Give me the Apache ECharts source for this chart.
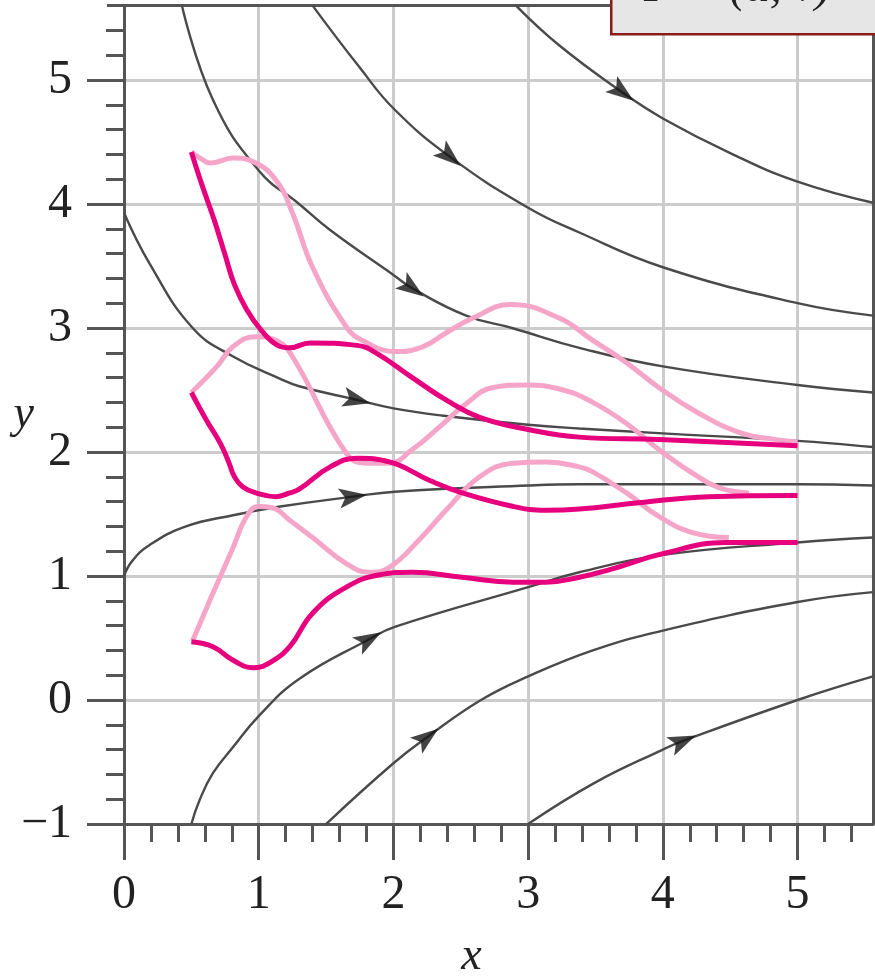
<!DOCTYPE html>
<html>
<head>
<meta charset="UTF-8">
<title>Flow lines</title>
<script src="https://cdn.jsdelivr.net/npm/echarts@6/dist/echarts.min.js"></script>
<style>body{margin:0;background:#fff;}</style>
</head>
<body>
	<div id="main" style="width: 875px; height: 980px;"></div>
	<script type="text/javascript">
		// gray flow lines
		var flow1 = [[2.91,5.6],[3.23,5.28],[3.70,4.90],[4.0,4.69],[4.5,4.41],[5.0,4.18],[5.56,4.01]];
		var flow2 = [[1.40,5.6],[1.75,5.10],[2.01,4.76],[2.42,4.38],[3.0,3.97],[3.38,3.77],[4.0,3.49],[5.0,3.20],[5.56,3.10]];
		var flow3 = [[0.43,5.6],[0.66,4.84],[1.0,4.27],[1.30,4.0],[1.53,3.79],[2.01,3.42],[2.14,3.32],[2.54,3.10],[2.88,3.0],[3.38,2.84],[4.0,2.69],[5.0,2.54],[5.56,2.48]];
		var flow4 = [[0,3.93],[0.19,3.52],[0.51,3.0],[0.81,2.77],[1.16,2.59],[1.30,2.53],[1.73,2.42],[2.01,2.35],[2.39,2.29],[3.0,2.22],[3.38,2.19],[4.0,2.15],[5.0,2.09],[5.56,2.04]];
		var flow5 = [[0,1.0],[0.06,1.12],[0.19,1.25],[0.46,1.40],[0.81,1.49],[1.16,1.56],[1.70,1.64],[2.01,1.68],[3.0,1.73],[3.38,1.74],[5.0,1.74],[5.56,1.73]];
		var flow6 = [[0.50,-1.0],[0.56,-0.81],[0.66,-0.59],[0.81,-0.38],[1.0,-0.13],[1.30,0.17],[1.82,0.49],[2.01,0.59],[3.0,0.91],[3.38,1.03],[4.0,1.17],[5.0,1.27],[5.56,1.31]];
		var flow7 = [[1.50,-1.0],[2.0,-0.51],[2.25,-0.30],[2.65,0.0],[3.0,0.19],[3.48,0.40],[4.0,0.56],[5.0,0.79],[5.56,0.87]];
		var flow8 = [[3.0,-1.0],[3.49,-0.67],[4.0,-0.40],[4.15,-0.33],[5.0,0.0],[5.56,0.19]];
		var flows = [flow1, flow2, flow3, flow4, flow5, flow6, flow7, flow8];
		// one arrow head on each flow line
		var arrowPts = [[3.70,4.90],[2.42,4.38],[2.14,3.32],[1.73,2.42],[1.70,1.64],[1.82,0.49],[2.25,-0.30],[4.15,-0.33]];

		// dark magenta paths
		var magenta1 = [[0.50,4.42],[0.58,4.15],[0.67,3.87],[0.75,3.59],[0.82,3.35],[0.91,3.15],[1.02,2.98],[1.14,2.86],[1.23,2.84],[1.38,2.88],[1.73,2.86],[1.87,2.80],[2.14,2.60],[2.39,2.42],[2.64,2.28],[3.01,2.18],[3.38,2.12],[3.97,2.10],[5.0,2.05]];
		var magenta2 = [[0.50,2.48],[0.61,2.26],[0.72,2.06],[0.78,1.91],[0.82,1.80],[0.88,1.72],[0.98,1.67],[1.13,1.64],[1.23,1.67],[1.30,1.70],[1.53,1.88],[1.73,1.95],[1.97,1.92],[2.27,1.77],[2.51,1.67],[2.89,1.56],[3.13,1.53],[3.38,1.54],[3.82,1.59],[4.34,1.64],[5.0,1.65]];
		var magenta3 = [[0.50,0.47],[0.66,0.43],[0.81,0.32],[0.96,0.26],[1.08,0.30],[1.23,0.43],[1.40,0.70],[1.65,0.91],[1.90,1.01],[2.14,1.03],[2.51,0.99],[2.89,0.95],[3.13,0.95],[3.38,0.99],[3.60,1.05],[4.0,1.18],[4.47,1.27],[5.0,1.27]];
		// light pink paths
		var pink1 = [[0.50,4.42],[0.58,4.36],[0.64,4.33],[0.81,4.37],[0.96,4.34],[1.13,4.19],[1.25,3.93],[1.40,3.49],[1.65,3.01],[1.77,2.90],[2.02,2.81],[2.22,2.85],[2.39,2.96],[2.59,3.08],[2.87,3.19],[3.23,3.08],[3.48,2.90],[3.73,2.72],[3.97,2.52],[4.27,2.31],[4.59,2.15],[4.84,2.10],[5.0,2.08]];
		var pink2 = [[0.50,2.48],[0.69,2.69],[0.81,2.85],[0.98,2.93],[1.13,2.90],[1.25,2.77],[1.65,1.99],[1.80,1.91],[1.97,1.91],[2.14,2.02],[2.34,2.20],[2.54,2.39],[2.74,2.52],[2.99,2.54],[3.26,2.50],[3.48,2.40],[3.73,2.23],[3.97,2.02],[4.22,1.83],[4.42,1.71],[4.64,1.67]];
		var pink3 = [[0.51,0.48],[0.66,0.86],[0.81,1.23],[0.91,1.48],[1.00,1.56],[1.10,1.55],[1.23,1.45],[1.40,1.31],[1.65,1.10],[1.82,1.03],[1.97,1.07],[2.19,1.29],[2.39,1.53],[2.64,1.80],[2.89,1.91],[3.13,1.92],[3.38,1.88],[3.48,1.84],[3.73,1.67],[3.97,1.48],[4.22,1.35],[4.49,1.31]];

		var xTicks = [0, 1, 2, 3, 4, 5];
		var yTicks = [-1, 0, 1, 2, 3, 4, 5];
		var xMax = 5.56, yMin = -1, yMax = 5.6;

		var axisColor = '#555555';
		var serif = "'Liberation Serif', 'DejaVu Serif', serif";
		var arrowPath = 'path://M0,-10 L6,8 L0,4 L-6,8 Z';

		var series = [];
		for (var i = 0; i < flows.length; i++) {
			series.push({
				type : 'line',
				data : flows[i],
				smooth : 0.45,
				symbol : 'none',
				silent : true,
				z : 2,
				lineStyle : { color : '#4a4a4a', width : 2.4 }
			});
		}
		series.push({
			type : 'scatter',
			data : arrowPts,
			symbol : arrowPath,
			symbolSize : [20, 28],
			silent : true,
			z : 3,
			itemStyle : { color : '#151515' }
		});
		[pink1, pink2, pink3].forEach(function(d) {
			series.push({
				type : 'line', data : d, smooth : 0.45, symbol : 'none', silent : true, z : 4,
				lineStyle : { color : '#f5a6c8', width : 5 }
			});
		});
		[magenta1, magenta2, magenta3].forEach(function(d) {
			series.push({
				type : 'line', data : d, smooth : 0.45, symbol : 'none', silent : true, z : 5,
				lineStyle : { color : '#e6007e', width : 5 }
			});
		});

		var chart = echarts.init(document.getElementById('main'));
		chart.setOption({
			animation : false,
			grid : { left : 124, right : 2, top : 5.6, bottom : 156, outerBoundsMode : 'none', containLabel : false },
			xAxis : [ {
				type : 'value', position : 'bottom', min : 0, max : xMax, interval : 1,
				axisLine : { onZero : false, lineStyle : { color : axisColor, width : 3 } },
				axisTick : { customValues : xTicks, length : 36, lineStyle : { color : axisColor, width : 3 } },
				minorTick : { show : true, splitNumber : 5, length : 18, lineStyle : { color : axisColor, width : 3 } },
				axisLabel : { customValues : xTicks, margin : 47, fontSize : 48, fontFamily : serif, color : '#222' },
				splitLine : { show : true, lineStyle : { color : '#cccccc', width : 3 } },
				name : 'x', nameLocation : 'middle', nameGap : 110, nameMoveOverlap : false,
				nameTextStyle : { fontSize : 46, fontFamily : serif, fontStyle : 'italic', color : '#222', padding : [0, 54, 0, 0] }
			}, {
				type : 'value', position : 'top', min : 0, max : xMax,
				axisLine : { onZero : false, lineStyle : { color : axisColor, width : 3 } },
				axisTick : { show : false }, axisLabel : { show : false }, splitLine : { show : false }
			}, {
				type : 'value', position : 'bottom', min : 0, max : xMax,
				axisLine : { show : false },
				axisTick : { customValues : [xMax], length : 18, lineStyle : { color : axisColor, width : 3 } },
				axisLabel : { show : false }, splitLine : { show : false }
			} ],
			yAxis : [ {
				type : 'value', position : 'left', min : yMin, max : yMax, interval : 1,
				axisLine : { onZero : false, lineStyle : { color : axisColor, width : 3 } },
				axisTick : { customValues : yTicks, length : 37, lineStyle : { color : axisColor, width : 3 } },
				minorTick : { show : true, splitNumber : 5, length : 18, lineStyle : { color : axisColor, width : 3 } },
				axisLabel : { customValues : yTicks, margin : 52, fontSize : 48, fontFamily : serif, color : '#222',
					formatter : function(v) { return v < 0 ? '\u2212' + (-v) : '' + v; } },
				splitLine : { show : true, lineStyle : { color : '#cccccc', width : 3 } },
				name : 'y', nameLocation : 'middle', nameRotate : 0, nameGap : 90, nameMoveOverlap : false,
				nameTextStyle : { fontSize : 46, fontFamily : serif, fontStyle : 'italic', color : '#222' }
			}, {
				type : 'value', position : 'right', min : yMin, max : yMax,
				axisLine : { onZero : false, lineStyle : { color : axisColor, width : 3 } },
				axisTick : { show : false }, axisLabel : { show : false }, splitLine : { show : false }
			}, {
				type : 'value', position : 'left', min : yMin, max : yMax,
				axisLine : { show : false },
				axisTick : { customValues : [yMax], length : 17, lineStyle : { color : axisColor, width : 3 } },
				axisLabel : { show : false }, splitLine : { show : false }
			} ],
			graphic : [ {
				type : 'rect', left : 610, top : -10, z : 100,
				shape : { width : 280, height : 43 },
				style : { fill : '#e6e6e6', stroke : '#8b1a1a', lineWidth : 2.5 }
			}, {
				type : 'text', z : 101, x : 831, y : 12,
				style : { text : 'F = (u, v)', align : 'right', verticalAlign : 'bottom',
					font : 'italic 48px ' + serif, fill : '#222' }
			} ],
			series : series
		});

		// turn each arrow head along its flow line
		var arrowData = arrowPts.map(function(p, k) {
			var d = flows[k], j = 1;
			while (j < d.length - 1 && d[j][0] < p[0]) j++;
			var a = chart.convertToPixel({ gridIndex : 0 }, d[j - 1]);
			var b = chart.convertToPixel({ gridIndex : 0 }, d[j]);
			var ang = Math.atan2(-(b[1] - a[1]), b[0] - a[0]) * 180 / Math.PI;
			return { value : p, symbolRotate : ang - 90 };
		});
		series[flows.length].data = arrowData;
		chart.setOption({ series : series });
	</script>
</body>
</html>
